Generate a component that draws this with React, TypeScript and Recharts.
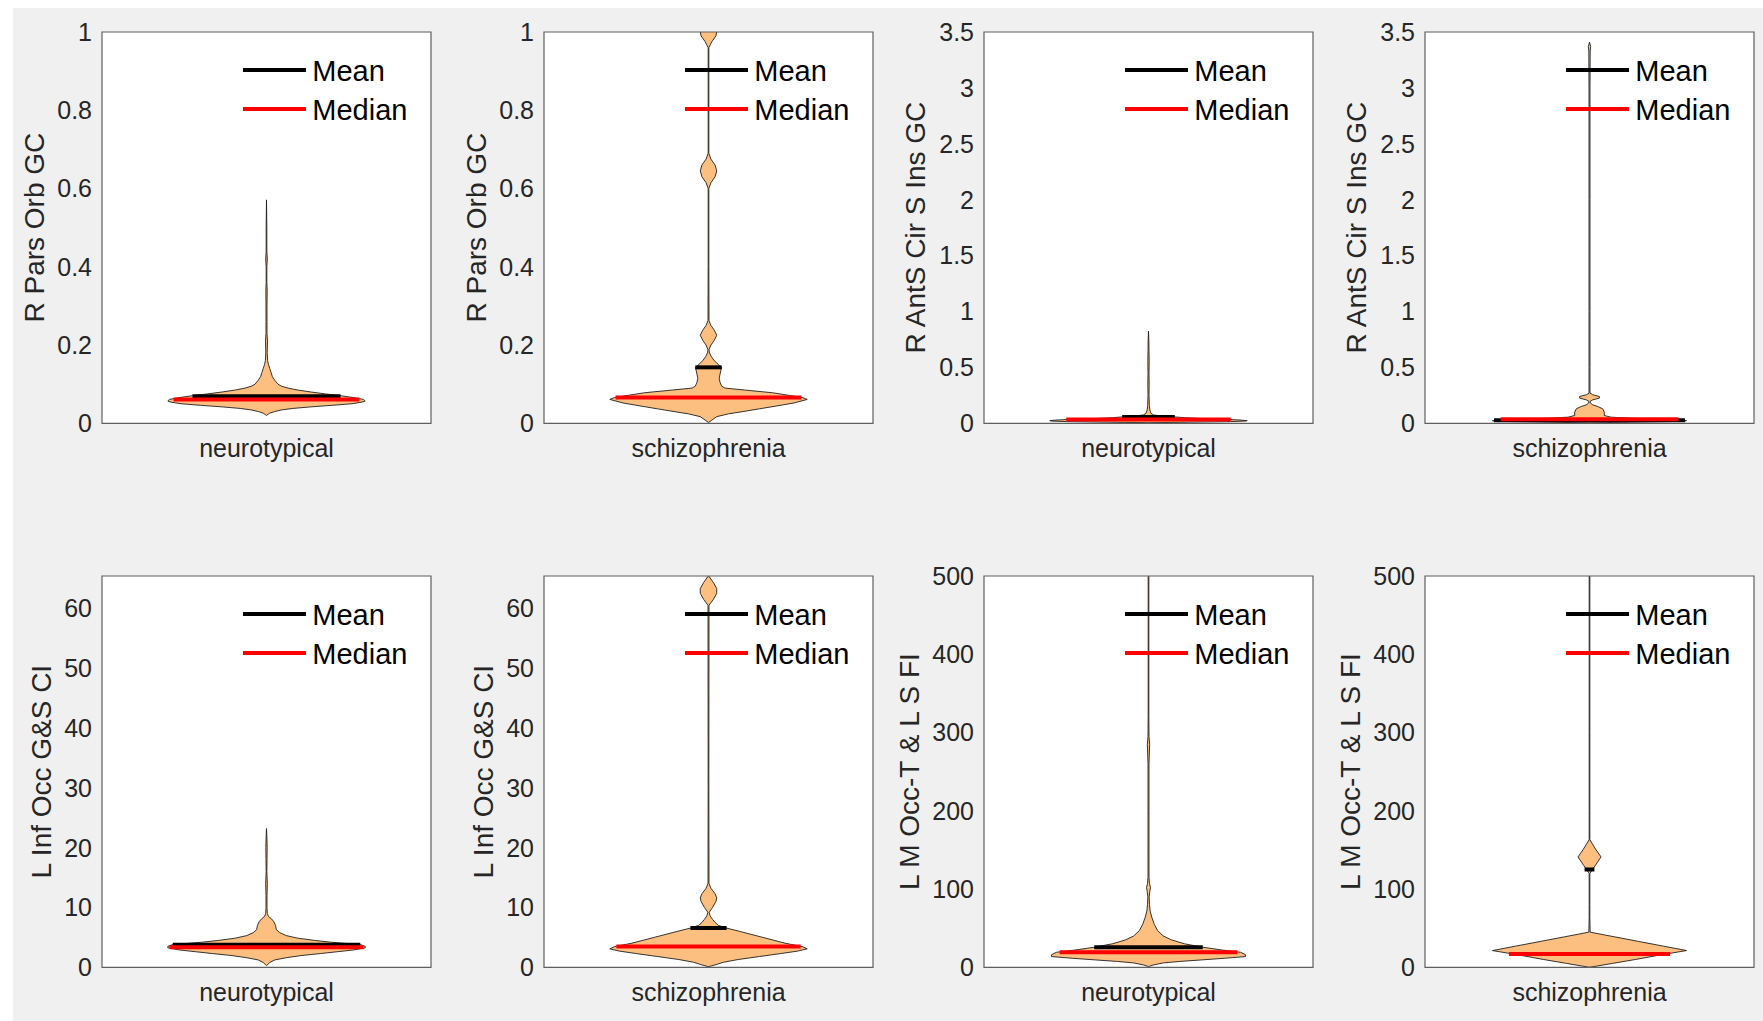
import React from 'react';
import {
  ComposedChart,
  Area,
  XAxis,
  YAxis,
  ReferenceLine,
  ReferenceArea,
  CartesianGrid,
  Legend,
  Label,
} from 'recharts';

// ---------------- DATA ----------------
const GROUPS = ['neurotypical', 'schizophrenia'];
const Y_LABELS = ['R Pars Orb GC', 'R AntS Cir S Ins GC', 'L Inf Occ G&S CI', 'L M Occ-T & L S FI'];
const Y_MAX = [1, 3.5, 65.4, 500];
const TICKS_PARS = [0, 0.2, 0.4, 0.6, 0.8, 1];
const TICKS_ANTS = [0, 0.5, 1, 1.5, 2, 2.5, 3, 3.5];
const TICKS_INFOCC = [0, 10, 20, 30, 40, 50, 60];
const TICKS_MOCC = [0, 100, 200, 300, 400, 500];

const LEGEND_ITEMS = [
  { label: 'Mean', color: '#000000' },
  { label: 'Median', color: '#ff0000' },
];

// violin profiles: value (v) and half-width (w, fraction of axes half-width)
const NT_PARS_V = [0.020, 0.026, 0.030, 0.034, 0.038, 0.042, 0.046, 0.050, 0.054, 0.057, 0.061, 0.065, 0.070, 0.075, 0.080, 0.085, 0.090, 0.095, 0.100, 0.110, 0.120, 0.130, 0.140, 0.150, 0.160, 0.180, 0.210, 0.230, 0.260, 0.300, 0.340, 0.360, 0.400, 0.420, 0.440, 0.500, 0.571];
const NT_PARS_W = [0, 0.02, 0.05, 0.09, 0.16, 0.27, 0.40, 0.52, 0.58, 0.60, 0.59, 0.54, 0.46, 0.36, 0.27, 0.19, 0.13, 0.09, 0.07, 0.05, 0.035, 0.028, 0.02, 0.012, 0.007, 0.004, 0.006, 0.003, 0.003, 0.003, 0.004, 0.002, 0.002, 0.005, 0.002, 0.002, 0];

const SZ_PARS_V = [0.002, 0.008, 0.017, 0.024, 0.030, 0.037, 0.044, 0.052, 0.061, 0.066, 0.072, 0.078, 0.085, 0.090, 0.095, 0.105, 0.115, 0.125, 0.135, 0.143, 0.150, 0.160, 0.170, 0.180, 0.188, 0.200, 0.212, 0.225, 0.238, 0.250, 0.262, 0.400, 0.600, 0.615, 0.630, 0.645, 0.660, 0.675, 0.690, 0.800, 0.960, 0.975, 0.990, 1.000, 1.020];
const SZ_PARS_W = [0, 0.02, 0.05, 0.12, 0.21, 0.31, 0.41, 0.52, 0.60, 0.57, 0.48, 0.39, 0.22, 0.10, 0.08, 0.07, 0.065, 0.07, 0.075, 0.08, 0.06, 0.035, 0.018, 0.006, 0.003, 0.015, 0.035, 0.05, 0.035, 0.015, 0.003, 0.002, 0.002, 0.015, 0.04, 0.05, 0.04, 0.015, 0.002, 0.002, 0.002, 0.02, 0.045, 0.05, 0.04];

const NT_ANTS_V = [0.005, 0.010, 0.015, 0.020, 0.024, 0.030, 0.036, 0.042, 0.050, 0.057, 0.065, 0.075, 0.09, 0.12, 0.16, 0.25, 0.35, 0.45, 0.55, 0.65, 0.75, 0.825];
const NT_ANTS_W = [0, 0.25, 0.5, 0.59, 0.60, 0.55, 0.45, 0.33, 0.22, 0.16, 0.08, 0.03, 0.015, 0.008, 0.005, 0.003, 0.004, 0.003, 0.004, 0.003, 0.002, 0];

const SZ_ANTS_V = [0.004, 0.010, 0.016, 0.020, 0.024, 0.030, 0.036, 0.045, 0.055, 0.07, 0.10, 0.13, 0.15, 0.165, 0.18, 0.195, 0.21, 0.225, 0.24, 0.255, 0.27, 0.5, 1, 2, 3, 3.33, 3.37, 3.41];
const SZ_ANTS_W = [0, 0.25, 0.5, 0.58, 0.59, 0.52, 0.42, 0.25, 0.13, 0.09, 0.09, 0.08, 0.05, 0.02, 0.006, 0.003, 0.02, 0.06, 0.06, 0.02, 0.003, 0.003, 0.003, 0.003, 0.003, 0.004, 0.007, 0];

const NT_INFOCC_V = [0.28, 0.8, 1.23, 1.6, 1.96, 2.3, 2.6, 2.9, 3.25, 3.5, 3.8, 4.2, 4.5, 4.87, 5.3, 5.8, 6.3, 7.0, 7.6, 8.1, 8.5, 9.0, 10, 12, 14, 16, 18, 20, 22, 23.2];
const NT_INFOCC_W = [0, 0.02, 0.05, 0.12, 0.21, 0.33, 0.43, 0.53, 0.60, 0.60, 0.57, 0.39, 0.29, 0.19, 0.12, 0.08, 0.06, 0.055, 0.045, 0.03, 0.012, 0.005, 0.003, 0.003, 0.005, 0.002, 0.003, 0.004, 0.002, 0];

const SZ_INFOCC_V = [0.1, 0.4, 0.84, 1.3, 1.8, 2.3, 2.7, 3.08, 3.47, 4, 5, 6, 6.55, 7.0, 7.5, 8.0, 8.6, 9.2, 10, 11, 11.6, 12.3, 13.2, 14, 30, 60.5, 61.5, 62.5, 63.3, 64.3, 65.3, 67];
const SZ_INFOCC_W = [0, 0.04, 0.09, 0.18, 0.31, 0.44, 0.54, 0.60, 0.57, 0.47, 0.33, 0.19, 0.11, 0.06, 0.04, 0.025, 0.01, 0.004, 0.025, 0.045, 0.05, 0.04, 0.015, 0.003, 0.002, 0.003, 0.03, 0.05, 0.05, 0.03, 0.004, 0.003];

const NT_MOCC_V = [0.9, 3, 5.6, 7.5, 9.4, 11.5, 13.7, 16, 19.2, 22, 25.6, 30, 35, 40, 47, 55, 64, 72, 80, 90, 97, 102, 107, 115, 150, 200, 260, 285, 295, 320, 400, 520];
const NT_MOCC_W = [0, 0.03, 0.09, 0.19, 0.32, 0.46, 0.59, 0.59, 0.56, 0.45, 0.33, 0.22, 0.14, 0.09, 0.055, 0.035, 0.02, 0.01, 0.006, 0.004, 0.008, 0.012, 0.006, 0.003, 0.003, 0.003, 0.003, 0.007, 0.003, 0.002, 0.002, 0.002];

const SZ_MOCC_V = [0, 5, 10, 15, 21.4, 27, 33, 39, 44.9, 55, 64, 80, 100, 119.7, 125, 130, 141, 150, 163, 200, 300, 400, 520];
const SZ_MOCC_W = [0, 0.14, 0.28, 0.41, 0.59, 0.45, 0.30, 0.15, 0.004, 0.003, 0.002, 0.002, 0.002, 0.002, 0.018, 0.035, 0.07, 0.04, 0.002, 0.002, 0.002, 0.002, 0.002];

// mean / median (value, half-width) per panel in reading order
const MEAN_V = [0.069, 0.143, 0.057, 0.028, 3.75, 6.55, 25.6, 125];
const MEAN_W = [0.45, 0.08, 0.16, 0.58, 0.57, 0.11, 0.33, 0.03];
const MEDIAN_V = [0.061, 0.066, 0.033, 0.036, 3.36, 3.47, 19.2, 17.1];
const MEDIAN_W = [0.565, 0.565, 0.5, 0.54, 0.59, 0.56, 0.54, 0.49];

// ---------------- LAYOUT ----------------
const FONT = '"Liberation Sans", Arial, Helvetica, sans-serif';
const BOX_LEFTS = [102.3, 544.3, 984.3, 1425.3];
const BOX_TOPS = [32, 576];
const BOX_W = 329;
const BOX_H = 391.3;
const LABEL_OFFSETS = [67.5, 67.5, 68, 68, 60, 60, 74.5, 74.5];
const ML = 100;
const MT = 20;
const MR = 20;
const XH = 60;

const PROFILES = [
  [NT_PARS_V, NT_PARS_W],
  [SZ_PARS_V, SZ_PARS_W],
  [NT_ANTS_V, NT_ANTS_W],
  [SZ_ANTS_V, SZ_ANTS_W],
  [NT_INFOCC_V, NT_INFOCC_W],
  [SZ_INFOCC_V, SZ_INFOCC_W],
  [NT_MOCC_V, NT_MOCC_W],
  [SZ_MOCC_V, SZ_MOCC_W],
];
const TICKS = [TICKS_PARS, TICKS_ANTS, TICKS_INFOCC, TICKS_MOCC];

const LegendContent = () => (
  <div style={{ fontFamily: FONT }}>
    {LEGEND_ITEMS.map((it) => (
      <div key={it.label} style={{ display: 'flex', alignItems: 'center', height: 39 }}>
        <div style={{ width: 63.3, height: 4, background: it.color, marginRight: 6, flex: 'none' }} />
        <span style={{ fontSize: 29, lineHeight: '39px', color: '#000', position: 'relative', top: 2, whiteSpace: 'nowrap' }}>
          {it.label}
        </span>
      </div>
    ))}
  </div>
);

function ViolinPanel({ idx }: { idx: number }) {
  const row = Math.floor(idx / 4);
  const col = idx % 4;
  const measure = row * 2 + Math.floor(col / 2);
  const group = GROUPS[col % 2];
  const yLabel = Y_LABELS[measure];
  const yMax = Y_MAX[measure];
  const ticks = TICKS[measure];
  const [vs, ws] = PROFILES[idx];
  const data = vs.map((v, i) => ({ v, w: [-ws[i], ws[i]] }));
  const left = BOX_LEFTS[col];
  const top = BOX_TOPS[row];
  const labelOffset = LABEL_OFFSETS[idx];

  return (
    <div style={{ position: 'absolute', left: left - ML, top: top - MT }}>
      <ComposedChart
        width={ML + BOX_W + MR}
        height={MT + BOX_H + XH}
        data={data}
        layout="vertical"
        margin={{ top: MT, right: MR, bottom: 0, left: 0 }}
      >
        <CartesianGrid horizontal={false} vertical={false} fill="#ffffff" />
        <XAxis
          type="number"
          domain={[-1, 1]}
          ticks={[0]}
          tickFormatter={() => group}
          allowDataOverflow
          axisLine={false}
          tickLine={false}
          tickSize={0}
          tickMargin={16}
          height={XH}
          interval={0}
          tick={{ fontSize: 25, fill: '#262626' }}
        />
        <YAxis
          type="number"
          dataKey="v"
          domain={[0, yMax]}
          ticks={ticks}
          reversed
          allowDataOverflow
          axisLine={false}
          tickLine={false}
          tickSize={0}
          tickMargin={10}
          width={ML}
          interval={0}
          tick={{ fontSize: 25, fill: '#262626' }}
        >
          <Label
            content={(props: any) => {
              const vb = props.viewBox || { x: 0, y: MT, width: ML, height: BOX_H };
              const cx = vb.x + vb.width - labelOffset;
              const cy = vb.y + vb.height / 2;
              return (
                <text
                  x={cx}
                  y={cy}
                  transform={`rotate(-90, ${cx}, ${cy})`}
                  textAnchor="middle"
                  dominantBaseline="central"
                  fontSize={28}
                  fill="#262626"
                  fontFamily={FONT}
                >
                  {yLabel}
                </text>
              );
            }}
          />
        </YAxis>
        <Area
          dataKey="w"
          type="linear"
          fill="#fdbf80"
          fillOpacity={1}
          stroke="#1e1e1e"
          strokeWidth={0.9}
          dot={false}
          activeDot={false}
          isAnimationActive={false}
        />
        <ReferenceLine
          segment={[{ x: -MEAN_W[idx], y: MEAN_V[idx] }, { x: MEAN_W[idx], y: MEAN_V[idx] }]}
          stroke="#000000"
          strokeWidth={4}
          zIndex={700}
        />
        <ReferenceLine
          segment={[{ x: -MEDIAN_W[idx], y: MEDIAN_V[idx] }, { x: MEDIAN_W[idx], y: MEDIAN_V[idx] }]}
          stroke="#ff0000"
          strokeWidth={4}
          zIndex={710}
        />
        <ReferenceArea
          x1={-1}
          x2={1}
          y1={0}
          y2={yMax}
          fill="none"
          fillOpacity={0}
          stroke="#5f5f5f"
          strokeWidth={1.2}
          ifOverflow="visible"
          zIndex={800}
        />
        <Legend
          layout="horizontal"
          verticalAlign="middle"
          align="center"
          content={LegendContent}
          wrapperStyle={{ left: ML + 140.7, top: MT + 18, width: 220, height: 78, margin: 0 }}
        />
      </ComposedChart>
    </div>
  );
}

export default function App() {
  return (
    <div
      style={{
        position: 'absolute',
        left: 0,
        top: 0,
        width: 1763,
        height: 1021,
        overflow: 'hidden',
        background: '#ffffff',
        fontFamily: FONT,
      }}
    >
      <div style={{ position: 'absolute', left: 13, top: 8, width: 1750, height: 1013, background: '#f0f0f0' }} />
      {[0, 1, 2, 3, 4, 5, 6, 7].map((i) => (
        <ViolinPanel key={i} idx={i} />
      ))}
    </div>
  );
}
